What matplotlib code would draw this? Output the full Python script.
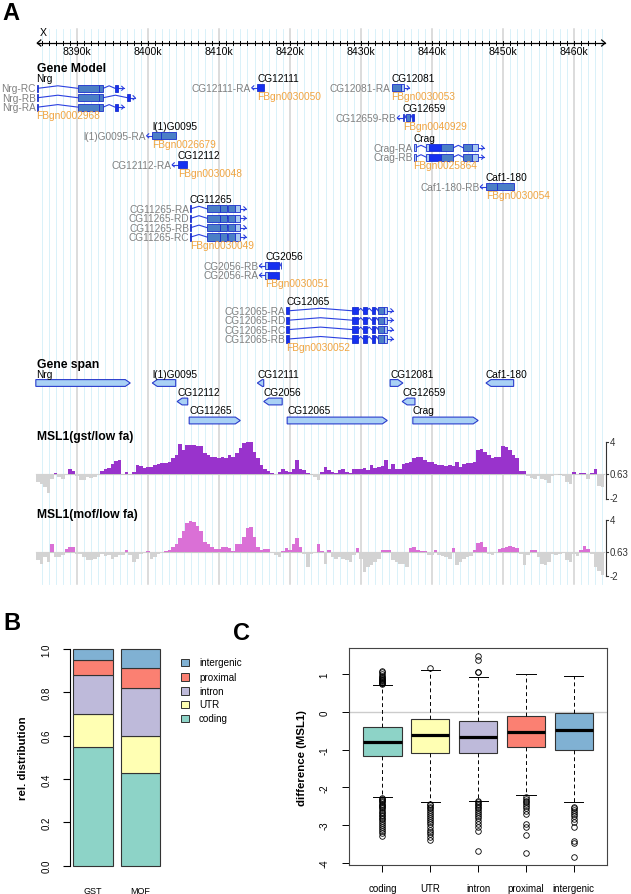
import matplotlib
matplotlib.use('Agg')
import matplotlib.pyplot as plt
from matplotlib.patches import Rectangle, Polygon
import numpy as np

plt.rcParams['font.family'] = ['Liberation Sans', 'DejaVu Sans']

W, H = 631, 895
fig = plt.figure(figsize=(W / 100, H / 100), dpi=100)


def fax(x0, y0, x1, y1):
    # axes from a box given in figure pixels (top-left origin)
    return fig.add_axes([x0 / W, 1 - y1 / H, (x1 - x0) / W, (y1 - y0) / H])


# genome window drawn across the whole figure width (kb)
KB_L = 8390 - 77 / 7.1
KB_R = 8390 + 554 / 7.1

# ---------------- panel A data ----------------
ruler_kb = [8390, 8400, 8410, 8420, 8430, 8440, 8450, 8460]
ruler_labels = ['8390k', '8400k', '8410k', '8420k', '8430k', '8440k', '8450k', '8460k']

model_genes = ['Nrg', 'CG12111', 'CG12081', 'CG12659', 'l(1)G0095', 'Crag',
               'CG12112', 'Caf1-180', 'CG11265', 'CG2056', 'CG12065']
model_fbgn = ['FBgn0002968', 'FBgn0030050', 'FBgn0030053', 'FBgn0040929', 'FBgn0026679',
              'FBgn0025864', 'FBgn0030048', 'FBgn0030054', 'FBgn0030049', 'FBgn0030051',
              'FBgn0030052']
model_strand = [1, -1, 1, -1, -1, 1, -1, -1, 1, -1, 1]
model_tx = [['Nrg-RC', 'Nrg-RB', 'Nrg-RA'], ['CG12111-RA'], ['CG12081-RA'], ['CG12659-RB'],
            ['l(1)G0095-RA'], ['Crag-RA', 'Crag-RB'], ['CG12112-RA'], ['Caf1-180-RB'],
            ['CG11265-RA', 'CG11265-RD', 'CG11265-RB', 'CG11265-RC'],
            ['CG2056-RB', 'CG2056-RA'],
            ['CG12065-RA', 'CG12065-RD', 'CG12065-RC', 'CG12065-RB']]

# exons (start kb, end kb, kind): c = coding, u = UTR, b = small exon
nrg_c = [(8384.3, 8384.5, 'c'), (8390.1, 8393.1, 'c'), (8393.1, 8393.7, 'c'), (8395.35, 8395.8, 'b')]
nrg_b = [(8384.3, 8384.5, 'c'), (8390.1, 8393.1, 'c'), (8393.1, 8393.7, 'c'), (8397.1, 8397.4, 'b')]
cg12111 = [(8415.4, 8416.3, 'b')]
cg12081 = [(8434.3, 8435.6, 'c'), (8435.6, 8436.0, 'u')]
cg12659 = [(8435.9, 8436.1, 'u'), (8436.3, 8436.9, 'c'), (8437.2, 8437.4, 'b')]
g0095 = [(8400.6, 8401.8, 'c'), (8401.8, 8404.0, 'c')]
crag = [(8437.4, 8437.7, 'u'), (8439.2, 8439.6, 'u'), (8439.6, 8441.2, 'b'), (8441.2, 8443.0, 'c'),
        (8444.4, 8445.6, 'c'), (8445.6, 8446.5, 'u')]
cg12112 = [(8404.2, 8405.5, 'b')]
caf1 = [(8447.6, 8449.2, 'c'), (8449.2, 8451.6, 'c')]
cg11265 = [(8405.9, 8406.05, 'b'), (8408.3, 8410.1, 'c'), (8410.2, 8411.1, 'c'),
           (8411.2, 8412.3, 'c'), (8412.3, 8413.0, 'u')]
cg2056_b = [(8416.5, 8416.9, 'u'), (8416.9, 8418.4, 'b'), (8418.7, 8418.8, 'b')]
cg2056_a = [(8416.5, 8416.9, 'u'), (8416.9, 8418.4, 'b')]
cg12065 = [(8419.5, 8419.8, 'b'), (8428.8, 8429.6, 'b'), (8430.3, 8430.8, 'b'),
           (8431.5, 8432.0, 'b'), (8432.4, 8433.2, 'c'), (8433.2, 8433.7, 'u')]
model_exons = [[nrg_c, nrg_b, nrg_c], [cg12111], [cg12081], [cg12659], [g0095], [crag, crag],
               [cg12112], [caf1], [cg11265] * 4, [cg2056_b, cg2056_a], [cg12065] * 4]

span_genes = ['Nrg', 'l(1)G0095', 'CG12111', 'CG12081', 'Caf1-180',
              'CG12112', 'CG2056', 'CG12659', 'CG11265', 'CG12065', 'Crag']
span_start = [8384.2, 8400.6, 8415.4, 8434.1, 8447.6, 8404.1, 8416.3, 8435.8, 8405.8, 8419.6, 8437.3]
span_end = [8397.5, 8403.9, 8416.3, 8435.9, 8451.5, 8405.6, 8418.9, 8437.6, 8413.0, 8433.7, 8446.5]
span_strand = [1, -1, -1, 1, -1, -1, -1, -1, 1, 1, 1]

# MSL1 enrichment tracks, 0.5 kb bins from 8384.25 kb, values relative to the 0.63 baseline
TRACK_BASE = 0.63
gst_rel = [
    -0.9, -1.1, -1.45, -2.0, -0.55, 0.1, -0.3, -0.55, -0.1, 0.45,
    0.3, -0.2, -0.65, -0.7, -0.35, -0.45, -0.3, -0.1, 0.3, 0.45,
    0.65, 1.0, 1.4, 1.45, 0.0, 0.2, 0.0, 0.2, 0.9, 0.8,
    0.65, 0.7, 0.7, 0.9, 1.0, 1.1, 1.1, 1.25, 1.65, 2.0,
    3.2, 2.55, 3.1, 3.1, 3.0, 2.9, 2.9, 2.2, 2.0, 1.8,
    1.75, 1.65, 1.8, 1.65, 2.0, 1.8, 2.2, 2.7, 3.25, 3.45,
    3.35, 2.35, 1.65, 0.9, 0.55, 0.3, 0.05, -0.1, 0.2, 0.55,
    0.3, 0.2, 0.45, 1.45, 0.55, 0.35, 0.1, 0.0, -0.35, -0.7,
    0.2, 0.7, 0.35, 0.2, 0.1, 0.35, 0.45, 0.2, 0.1, 0.45,
    0.55, 0.55, 0.65, 0.35, 0.9, 0.65, 0.7, 0.8, 1.45, 0.55,
    1.0, 0.45, 0.45, 1.0, 1.1, 1.25, 1.65, 1.75, 1.8, 1.45,
    1.25, 1.25, 1.0, 0.9, 0.9, 0.8, 0.9, 0.8, 1.25, 0.7,
    1.0, 1.1, 1.1, 1.25, 2.55, 2.6, 2.35, 2.0, 1.65, 1.8,
    1.8, 2.9, 2.85, 2.55, 2.0, 1.65, 0.3, 0.3, -0.2, -0.45,
    -0.55, -0.2, -0.55, -0.7, -1.0, -0.2, -0.1, -0.05, -0.2, -0.9,
    -1.1, 0.2, -0.1, 0.1, 0.05, -0.55, 0.1, 0.55, -1.25, -1.45,
]
mof_rel = [
    -0.9, -1.3, -0.5, -1.1, 0.9, -0.55, -0.55, -0.35, 0.3, 0.55,
    0.55, -0.2, -0.2, -0.55, -0.9, -0.9, -0.75, -0.55, -0.2, -0.45,
    -0.35, -0.75, -0.55, -0.35, -0.3, 0.2, -0.3, -1.1, -0.75, -0.2,
    -0.1, 0.1, -0.75, -0.55, -0.2, -0.1, 0.1, 0.2, 0.55, 0.8,
    1.45, 2.2, 3.1, 3.55, 3.25, 2.75, 2.2, 1.1, 0.9, 0.55,
    0.3, 0.35, 0.55, 0.55, 0.45, 0.1, 0.8, 0.9, 1.65, 2.55,
    2.65, 1.65, 0.55, 0.2, 0.35, 0.3, -0.1, -0.35, -0.55, 0.1,
    0.45, 0.2, 0.8, 1.45, 0.55, -0.2, -1.65, -0.2, -0.1, 0.8,
    0.1, -1.3, 0.2, -0.55, -0.75, -0.55, -0.75, -0.9, -1.1, -0.35,
    0.45, -0.75, -2.2, -1.65, -1.45, -1.1, -0.75, 0.2, 0.2, 0.2,
    -0.9, -1.1, -1.3, -1.3, -1.65, 0.45, 0.55, 0.2, 0.1, 0.05,
    -0.3, -0.35, 0.2, -0.35, -0.45, -0.55, -0.75, 0.45, -1.45, -1.1,
    -0.75, -0.55, -0.45, 0.2, 1.0, 1.1, 0.55, -0.2, -0.3, -0.1,
    0.3, 0.45, 0.55, 0.65, 0.55, 0.45, -0.2, -1.45, -0.35, 0.2,
    0.2, -0.55, -1.3, -1.45, -1.1, -0.2, -0.3, -0.2, -0.1, -0.9,
    -1.1, -0.2, -0.45, 0.2, 0.65, 0.35, -0.2, -1.65, -2.0, -2.5,
]
BIN0, BINW = 8384.5, 0.5

# ---------------- panel B / C data ----------------
regions = ['coding', 'UTR', 'intron', 'proximal', 'intergenic']
region_colors = ['#8DD3C7', '#FFFFB3', '#BEBADA', '#FB8072', '#80B1D3']
samples = ['GST', 'MOF']
gst_dist = [0.55, 0.15, 0.18, 0.07, 0.05]
mof_dist = [0.43, 0.17, 0.22, 0.09, 0.09]

box_q1 = [-1.16, -1.10, -1.10, -0.94, -1.00]
box_med = [-0.79, -0.62, -0.65, -0.52, -0.47]
box_q3 = [-0.41, -0.19, -0.25, -0.10, -0.02]
box_lo = [-2.26, -2.40, -2.35, -2.20, -2.40]
box_hi = [0.72, 1.11, 0.94, 1.00, 0.97]
fliers = [
    [0.74, 0.76, 0.78, 0.8, 0.82, 0.84, 0.86, 0.88, 0.9, 0.92, 0.95, 1.0, 1.05, 1.1,
     -2.28, -2.31, -2.34, -2.37, -2.4, -2.43, -2.46, -2.5, -2.53, -2.56, -2.6, -2.64, -2.68,
     -2.72, -2.76, -2.8, -2.85, -2.9, -2.95, -3.0, -3.05, -3.1, -3.15, -3.22, -3.3],
    [1.17, -2.43, -2.47, -2.52, -2.56, -2.6, -2.65, -2.7, -2.75, -2.8, -2.86, -2.92, -2.98,
     -3.05, -3.12, -3.18, -3.25, -3.33, -3.4],
    [1.05, 1.07, 1.38, 1.49, -2.37, -2.4, -2.43, -2.47, -2.51, -2.55, -2.6, -2.65, -2.7,
     -2.76, -2.82, -2.9, -2.98, -3.06, -3.16, -3.7],
    [-2.26, -2.3, -2.35, -2.4, -2.45, -2.5, -2.55, -2.62, -2.7, -2.97, -3.06, -3.26, -3.73],
    [-2.51, -2.55, -2.6, -2.65, -2.7, -2.77, -2.84, -2.92, -3.06, -3.41, -3.48, -3.84],
]

# ---------------- styles ----------------
EXON_FILL = {'c': '#4b7fc6', 'u': '#a9c9f0', 'b': '#1530f0'}
EXON_EDGE = '#1a2ecc'
TX_LINE = '#2b40e0'
GRAY_TXT = '#808080'
ORANGE = '#f0a440'
FS = 7.3

# ================= panel A =================
ax = fax(0, 20, W, 605)
ax.set_xlim(KB_L, KB_R)
ax.set_ylim(605, 20)
ax.axis('off')

# background grid
for k in range(8385, 8465):
    if k % 10:
        ax.plot([k, k], [30, 585], color='#d3eff9', lw=0.6, zorder=0)
for k in ruler_kb:
    ax.plot([k, k], [30, 585], color='#d2d2d2', lw=1.1, zorder=0)

# ruler
rl, rr, ry = 8384.4, 8464.4, 44
ax.plot([rl, rr], [ry, ry], color='black', lw=0.9)
ax.plot([rl + 0.5, rl, rl + 0.5], [ry - 3, ry, ry + 3], color='black', lw=0.9)
ax.plot([rr - 0.5, rr, rr - 0.5], [ry - 3, ry, ry + 3], color='black', lw=0.9)
for k in range(8385, 8464):
    ax.plot([k, k], [ry - 2, ry + 2], color='black', lw=0.7)
for k, lab in zip(ruler_kb, ruler_labels):
    ax.text(k, 52.5, lab, ha='center', va='center', fontsize=7.6)
ax.text(rl + 0.3, 33.5, 'X', ha='left', va='center', fontsize=7.6)

ax.text(rl, 69.5, 'Gene Model', ha='left', va='center', fontsize=8.7, fontweight='bold')


def draw_tx(exons, strand, y, name):
    ex = sorted(exons)
    lo, hi = ex[0][0], max(e[1] for e in ex)
    for a, b in zip(ex[:-1], ex[1:]):
        if b[0] - a[1] > 0.05:
            mid = (a[1] + b[0]) / 2
            ax.plot([a[1], mid, b[0]], [y, y - 2.5, y], color=TX_LINE, lw=0.8, zorder=2)
    if strand > 0:
        tip = hi + 0.8
        ax.plot([hi, tip], [y, y], color=TX_LINE, lw=0.8, zorder=2)
        ax.plot([tip - 0.3, tip, tip - 0.3], [y - 2, y, y + 2], color=TX_LINE, lw=0.8, zorder=2)
        left = lo
    else:
        tip = lo - 0.8
        ax.plot([tip, lo], [y, y], color=TX_LINE, lw=0.8, zorder=2)
        ax.plot([tip + 0.3, tip, tip + 0.3], [y - 2, y, y + 2], color=TX_LINE, lw=0.8, zorder=2)
        left = tip
    for s, e, kind in exons:
        ax.add_patch(Rectangle((s, y - 3.6), e - s, 7.2, facecolor=EXON_FILL[kind],
                               edgecolor=EXON_EDGE, lw=0.6, zorder=3))
    ax.text(left - 0.1, y, name, ha='right', va='center', fontsize=FS, color=GRAY_TXT, zorder=1)


model_name_y = [79.5, 79, 79, 109, 127, 139, 156, 178, 200, 257, 302]
for gi, gname in enumerate(model_genes):
    y0 = model_name_y[gi]
    gx = min(e[0] for tx in model_exons[gi] for e in tx)
    ax.text(gx, y0, gname, ha='left', va='center', fontsize=FS)
    for ti, (tname, exons) in enumerate(zip(model_tx[gi], model_exons[gi])):
        draw_tx(exons, model_strand[gi], y0 + 9.8 + 9.4 * ti, tname)
    ax.text(gx, y0 + 9.8 + 9.4 * (len(model_tx[gi]) - 1) + 7.8, model_fbgn[gi],
            ha='left', va='center', fontsize=FS, color=ORANGE)

# gene span
ax.text(rl, 365.5, 'Gene span', ha='left', va='center', fontsize=8.7, fontweight='bold')
span_row = [0, 0, 0, 0, 0, 1, 1, 1, 2, 2, 2]
row_label_y = [375.5, 393.5, 411.5]
row_box_y = [384, 402.5, 421.5]
for g, s, e, st, r in zip(span_genes, span_start, span_end, span_strand, span_row):
    yc, h = row_box_y[r], 6.8
    tip = min(0.7, e - s)
    if st > 0:
        pts = [(s, yc - h / 2), (e - tip, yc - h / 2), (e, yc), (e - tip, yc + h / 2), (s, yc + h / 2)]
    else:
        pts = [(e, yc - h / 2), (s + tip, yc - h / 2), (s, yc), (s + tip, yc + h / 2), (e, yc + h / 2)]
    ax.add_patch(Polygon(pts, closed=True, facecolor='#a9d1f5', edgecolor='#2a3ccc', lw=0.8, zorder=3))
    ax.text(s, row_label_y[r], g, ha='left', va='center', fontsize=FS)

# signal tracks
ax.text(rl, 437, 'MSL1(gst/low fa)', ha='left', va='center', fontsize=8.7, fontweight='bold')
ax.text(rl, 515.5, 'MSL1(mof/low fa)', ha='left', va='center', fontsize=8.7, fontweight='bold')

centers = BIN0 + BINW * np.arange(len(gst_rel))
for rel, pos_col, (y_top, y_bot) in [(gst_rel, '#9933cc', (443, 499.5)),
                                      (mof_rel, '#da70d6', (521.5, 577.5))]:
    t = fax(0, y_top, W, y_bot)
    t.set_xlim(KB_L, KB_R)
    t.set_ylim(-2, 4)
    t.axis('off')
    rel = np.array(rel)
    cols = [pos_col if v > 0 else '#d3d3d3' for v in rel]
    t.axhline(TRACK_BASE, xmin=(8384.25 - KB_L) / (KB_R - KB_L), xmax=(8464.25 - KB_L) / (KB_R - KB_L),
              color='#c8c8c8', lw=0.8, zorder=1)
    t.bar(centers, rel, width=BINW, bottom=TRACK_BASE, color=cols, linewidth=0, zorder=2)
    xb = 8464.5
    t.plot([xb, xb], [-2, 4], color='#333333', lw=0.8, clip_on=False)
    for v, lab in [(4, '4'), (TRACK_BASE, '0.63'), (-2, '-2')]:
        t.plot([xb, xb + 0.35], [v, v], color='#333333', lw=0.8, clip_on=False)
        t.text(xb + 0.5, v, lab, ha='left', va='center', fontsize=7, color='#333333')

# ================= panel B =================
axb = fax(69.8, 641.3, 163.4, 875.4)
xpos = [0.7, 1.9]
bottoms = [0.0, 0.0]
for ri, col in enumerate(region_colors):
    vals = [gst_dist[ri], mof_dist[ri]]
    axb.bar(xpos, vals, width=1.0, bottom=bottoms, color=col, edgecolor='#333333', linewidth=0.8)
    bottoms = [b + v for b, v in zip(bottoms, vals)]
axb.set_xlim(0.112, 2.488)
axb.set_ylim(-0.04, 1.04)
for sp in ['top', 'right', 'bottom']:
    axb.spines[sp].set_visible(False)
axb.spines['left'].set_bounds(0, 1)
axb.spines['left'].set_linewidth(0.8)
axb.set_yticks([0, 0.2, 0.4, 0.6, 0.8, 1.0])
axb.set_yticklabels(['0.0', '0.2', '0.4', '0.6', '0.8', '1.0'], rotation=90, va='center')
axb.tick_params(axis='y', direction='out', length=5, width=0.8, labelsize=7, pad=8)
axb.set_xticks(xpos)
axb.set_xticklabels(samples)
axb.tick_params(axis='x', length=0, labelsize=6.5, pad=8)

# ================= panel C =================
axc = fax(349, 649, 607.3, 866)
stats = []
for i in range(5):
    stats.append(dict(q1=box_q1[i], med=box_med[i], q3=box_q3[i],
                      whislo=box_lo[i], whishi=box_hi[i], fliers=fliers[i]))
axc.axhline(0, color='#cccccc', lw=1.0, zorder=0)
bp = axc.bxp(stats, positions=range(1, 6), widths=0.8, capwidths=0.4, patch_artist=True,
             boxprops=dict(edgecolor='#333333', linewidth=0.8),
             medianprops=dict(color='black', linewidth=2.3),
             whiskerprops=dict(color='black', linewidth=0.7, linestyle=(0, (4, 3))),
             capprops=dict(color='black', linewidth=0.7),
             flierprops=dict(marker='o', markerfacecolor='none', markeredgecolor='black',
                             markersize=4, markeredgewidth=0.6))
for patch, col in zip(bp['boxes'], region_colors):
    patch.set_facecolor(col)
axc.set_xlim(0.3, 5.7)
axc.set_ylim(-4.06, 1.70)
axc.set_xticks(range(1, 6))
axc.set_xticklabels(regions)
axc.set_yticks([-4, -3, -2, -1, 0, 1])
axc.set_yticklabels(['-4', '-3', '-2', '-1', '0', '1'], rotation=90, va='center')
axc.tick_params(direction='out', length=5, width=0.7, labelsize=7)
axc.tick_params(axis='x', pad=8)
axc.tick_params(axis='y', pad=9)
for sp in axc.spines.values():
    sp.set_linewidth(0.8)
    sp.set_color('#444444')

# ================= overlay text / legend =================
ov = fig.add_axes([0, 0, 1, 1])
ov.set_xlim(0, W)
ov.set_ylim(H, 0)
ov.axis('off')
ov.text(11, 13, 'A', ha='center', va='center', fontsize=17, fontweight='bold')
ov.text(12, 623, 'B', ha='center', va='center', fontsize=17, fontweight='bold')
ov.text(241, 633, 'C', ha='center', va='center', fontsize=17, fontweight='bold')
ov.text(23, 758, 'rel. distribution', rotation=90, ha='center', va='center',
        fontsize=8.2, fontweight='bold')
ov.text(302, 757.5, 'difference (MSL1)', rotation=90, ha='center', va='center',
        fontsize=8.2, fontweight='bold')
leg_y = [663.5, 678, 692, 705.5, 719.5]
for ly, name, col in zip(leg_y, regions[::-1], region_colors[::-1]):
    ov.add_patch(Rectangle((181, ly - 3.8), 7.6, 7.6, facecolor=col, edgecolor='#333333', lw=0.7))
    ov.text(199, ly, name, ha='left', va='center', fontsize=7.1)

fig.savefig('out.png', dpi=100)
